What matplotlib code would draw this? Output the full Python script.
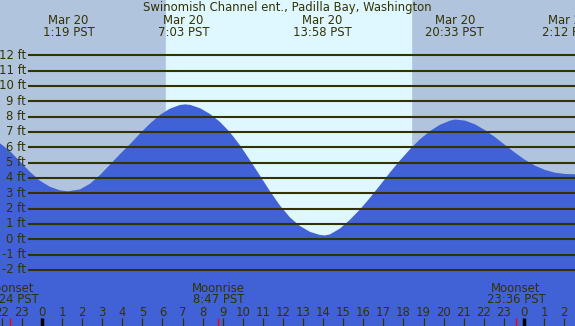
import matplotlib.pyplot as plt

# tide height (ft), hours from midnight Mar 20 (PST)
hours = [-2.09, -1.59, -1.10, -0.60, -0.10, 0.40, 0.90, 1.29, 1.89, 2.39,
         2.89, 3.39, 3.88, 4.38, 4.88, 5.38, 5.88, 6.37, 6.87, 7.12,
         7.37, 7.87, 8.37, 8.86, 9.36, 9.86, 10.36, 10.86, 11.35, 11.85,
         12.35, 12.85, 13.35, 13.84, 14.09, 14.34, 14.84, 15.34, 15.84, 16.33,
         16.83, 17.33, 17.83, 18.33, 18.82, 19.32, 19.82, 20.32, 20.57, 21.07,
         21.56, 22.06, 22.56, 23.06, 23.56, 24.05, 24.55, 25.05, 25.55, 26.05,
         26.54]
heights = [6.26, 5.75, 5.08, 4.40, 3.82, 3.42, 3.19, 3.13, 3.25, 3.62,
           4.19, 4.87, 5.55, 6.20, 6.90, 7.55, 8.12, 8.52, 8.76, 8.80,
           8.77, 8.55, 8.17, 7.66, 6.98, 6.13, 5.15, 4.14, 3.14, 2.20,
           1.42, 0.86, 0.48, 0.28, 0.25, 0.32, 0.70, 1.28, 1.95, 2.70,
           3.52, 4.36, 5.15, 5.88, 6.52, 7.06, 7.47, 7.74, 7.81, 7.74,
           7.50, 7.12, 6.66, 6.15, 5.64, 5.18, 4.80, 4.52, 4.34, 4.26,
           4.24]

title = "Swinomish Channel ent., Padilla Bay, Washington"
extreme_hours = [1.317, 7.05, 13.967, 20.55, 26.2]
extreme_days = ["Mar 20", "Mar 20", "Mar 20", "Mar 20", "Mar 21"]
extreme_times = ["1:19 PST", "7:03 PST", "13:58 PST", "20:33 PST", "2:12 PST"]

moon_hours = [-1.6, 8.783, 23.6]
moon_events = ["Moonset", "Moonrise", "Moonset"]
moon_times = ["22:24 PST", "8:47 PST", "23:36 PST"]

sunrise = 6.18
sunset = 18.38
gridlevels = list(range(-2, 13))
tick_hours = list(range(-2, 27))

W, H = 575, 326
txt = '#333300'
fs = 8.4

fig = plt.figure(figsize=(W / 100, H / 100), dpi=100)
ax = fig.add_axes([0, 0, 1, 1])
x0, x1 = -2.09, 26.54
y0, y1 = -5.66, 15.61
ax.set_xlim(x0, x1)
ax.set_ylim(y0, y1)
ax.axis('off')


def py(p):
    # pixel row from top -> axes fraction
    return 1 - p / H


def px(p):
    return p / W


xt = ax.get_xaxis_transform()

# night / day background
ax.axvspan(x0, x1, color='#B0C4DE', zorder=0)
ax.axvspan(sunrise, sunset, color='#DFF8FF', zorder=1)

# tide fill
ax.fill_between(hours, heights, y0, color='#4161D6', lw=0, zorder=2)

# height grid
for lv in gridlevels:
    ax.axhline(lv, xmin=px(29), xmax=1, color=txt, lw=1.5, zorder=3)
    ax.text(px(26), lv, f"{lv} ft", transform=ax.get_yaxis_transform(),
            ha='right', va='center', fontsize=fs, color=txt, zorder=4)

# title and high/low labels
ax.text(0.5, py(7), title, transform=ax.transAxes, ha='center', va='center',
        fontsize=fs, color=txt, zorder=4)
for h, d, t in zip(extreme_hours, extreme_days, extreme_times):
    ax.text(h, py(20), d, transform=xt, ha='center', va='center',
            fontsize=fs, color=txt, zorder=4)
    ax.text(h, py(32), t, transform=xt, ha='center', va='center',
            fontsize=fs, color=txt, zorder=4)

# moon events
for h, e, t in zip(moon_hours, moon_events, moon_times):
    ax.text(h, py(288), e, transform=xt, ha='center', va='center',
            fontsize=fs, color=txt, zorder=4)
    ax.text(h, py(299.5), t, transform=xt, ha='center', va='center',
            fontsize=fs, color=txt, zorder=4)
    ax.plot([h, h], [py(318), 0], transform=xt, color='red', lw=1,
            zorder=4, solid_capstyle='butt')

# hour ticks
for h in tick_hours:
    ax.text(h, py(312), str(h % 24), transform=xt, ha='center', va='center',
            fontsize=fs, color=txt, zorder=4)
    if h % 24 == 0:
        ax.plot([h, h], [py(318), 0], transform=xt, color='black', lw=2.5,
                zorder=4, solid_capstyle='butt')
    else:
        ax.plot([h, h], [py(318), 0], transform=xt, color=txt, lw=0.9,
                zorder=4, solid_capstyle='butt')

fig.savefig('out.png', dpi=100)
